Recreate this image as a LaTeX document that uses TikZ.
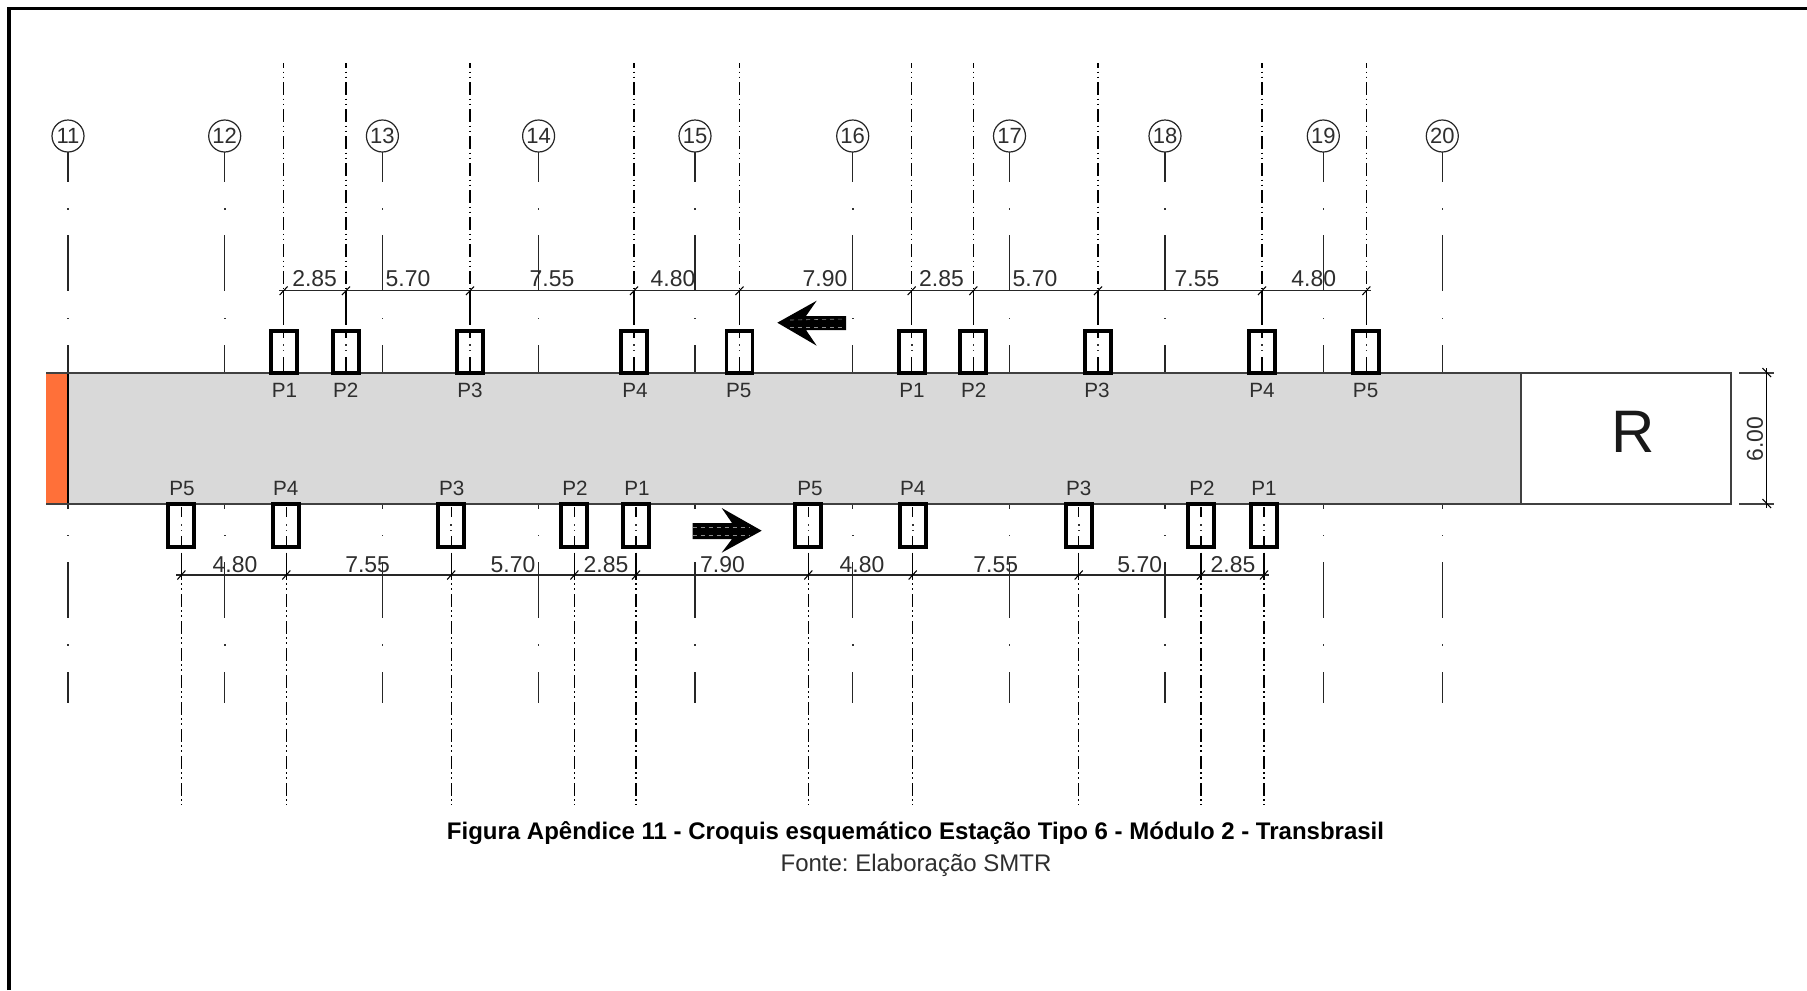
\documentclass[tikz,border=0pt]{standalone}
\usepackage{fontspec}
\setmainfont{Liberation Sans}
\definecolor{roadgrey}{HTML}{D9D9D9}
\definecolor{headorange}{HTML}{FF7039}
\definecolor{inkgrey}{HTML}{2E2E2E}
\tikzset{
  frameline/.style={line width=2.4pt,black},
  axisline/.style={line width=1.05pt,black!85},
  axisdot/.style={fill=black!80,draw=none},
  centerline/.style={line width=1.05pt,black,dash pattern=on 9.75pt off 2.5pt on 1.1pt off 2.7pt on 1.1pt off 3.1pt,dash phase=6pt},
  plainline/.style={line width=1.05pt,black},
  stopbox/.style={line width=2.9pt,black,fill=none},
  dimline/.style={line width=1.05pt,black!85},
  tickmark/.style={line width=.8pt,black},
  outline/.style={line width=1.3pt,black!75},
  plabel/.style={font=\fontsize{15.5}{15.5}\selectfont,text=inkgrey,inner sep=0pt},
  dimlabel/.style={font=\fontsize{17.2}{17.2}\selectfont,text=inkgrey,inner sep=0pt},
  axisbubble/.style={circle,draw=black!85,line width=.9pt,fill=white,minimum size=24pt,inner sep=0pt,font=\fontsize{16.5}{16.5}\selectfont,text=inkgrey},
  bigarrow/.style={fill=black,draw=none},
  arrowstreak/.style={line width=.45pt,black!45,dash pattern=on 3pt off 3pt}
}
\begin{document}
\begin{tikzpicture}[x=0.75pt,y=-0.75pt]
\useasboundingbox (0,0) rectangle (1807,990);
\fill[white] (0,0) rectangle (1807,990);
% frame
\draw[frameline] (9,990) -- (9,8.7) -- (1807,8.7);
% road
\fill[headorange] (46,372.7) rectangle (68,503.7);
\fill[roadgrey] (68,372.7) rectangle (1521.3,503.7);
% grid axes
\foreach \n/\ax in {11/68,12/224.7,13/382.4,14/538.6,15/695,16/852.7,17/1009.5,18/1165,19/1323.3,20/1442.3}{
  \draw[axisline] (\ax,152) -- (\ax,182);
  \fill[axisdot] (\ax-.8,208) rectangle (\ax+.8,209.6);
  \draw[axisline] (\ax,235) -- (\ax,291);
  \fill[axisdot] (\ax-.8,317.5) rectangle (\ax+.8,319);
  \draw[axisline] (\ax,345) -- (\ax,372.7);
  \draw[axisline] (\ax,503.7) -- (\ax,508.5);
  \fill[axisdot] (\ax-.8,534.5) rectangle (\ax+.8,536);
  \draw[axisline] (\ax,562) -- (\ax,618);
  \fill[axisdot] (\ax-.8,644) rectangle (\ax+.8,645.6);
  \draw[axisline] (\ax,672) -- (\ax,703);
  \node[axisbubble] (ax\n) at (\ax,136) {\n};
}
\draw[plainline] (68,372.7) -- (68,503.7);
% road outlines
\draw[outline] (46,372.7) -- (1730.7,372.7) -- (1730.7,503.7) -- (46,503.7);
\draw[outline] (1521.3,372.7) -- (1521.3,503.7);
% top stop lines
\foreach \i/\px/\lx/\nm in {a/283.6/284.6/P1,b/346/345.7/P2,c/470/470/P3,d/634/635/P4,e/739.5/738.7/P5,f/911.7/912/P1,g/973.3/973.8/P2,h/1098/1097/P3,i/1262/1262/P4,j/1366.3/1365.6/P5}{
  \draw[centerline] (\px,63.3) -- (\px,291);
  \draw[plainline] (\px,291) -- (\px,325);
  \draw[plainline] (\px,333) -- (\px,338);
  \fill[axisdot] (\px-.8,344) rectangle (\px+.8,345.8);
  \fill[axisdot] (\px-.8,349.5) rectangle (\px+.8,351.3);
  \draw[plainline] (\px,357) -- (\px,373);
  \draw[stopbox] (\px-13,331) rectangle (\px+13,373);
  \node[plabel] (tp\i) at (\lx,390.5) {\nm};
}
% bottom stop lines
\foreach \i/\px/\lx/\nm in {a/181.4/182/P5,b/286.3/285.8/P4,c/451.2/451.7/P3,d/574.4/575/P2,e/636/637/P1,f/808.3/810/P5,g/912.7/912.7/P4,h/1078.7/1078.7/P3,i/1201/1202/P2,j/1264/1264/P1}{
  \draw[plainline] (\px,507) -- (\px,517);
  \fill[axisdot] (\px-.8,524) rectangle (\px+.8,525.8);
  \fill[axisdot] (\px-.8,529.5) rectangle (\px+.8,531.3);
  \draw[plainline] (\px,536) -- (\px,546);
  \draw[stopbox] (\px-13,504) rectangle (\px+13,547);
  \draw[plainline] (\px,552.7) -- (\px,575);
  \draw[centerline] (\px,575) -- (\px,805);
  \node[plabel] (bp\i) at (\lx,488.5) {\nm};
}
% dimension lines
\draw[dimline] (279,290.7) -- (1371,290.7);
\draw[dimline] (176,575) -- (1269,575);
\foreach \px in {283.6,346,470,634,739.5,911.7,973.3,1098,1262,1366.3}{
  \draw[tickmark] (\px-4,295) -- (\px+4,286.5);
}
\foreach \px in {181.4,286.3,451.2,574.4,636,808.3,912.7,1078.7,1201,1264}{
  \draw[tickmark] (\px-4,579.5) -- (\px+4,570.5);
}
% dimension labels
\foreach \i/\lx/\t in {a/314.6/2.85,b/408/5.70,c/552/7.55,d/673/4.80,e/825/7.90,f/941.5/2.85,g/1035/5.70,h/1197/7.55,i/1313.7/4.80}{
  \node[dimlabel] (td\i) at (\lx,279) {\t};
}
\foreach \i/\lx/\t in {a/235/4.80,b/367.6/7.55,c/513/5.70,d/606/2.85,e/722.5/7.90,f/862/4.80,g/995.7/7.55,h/1139.7/5.70,i/1233/2.85}{
  \node[dimlabel] (bd\i) at (\lx,564.5) {\t};
}
% arrows
\fill[bigarrow] (777.3,322.7) -- (816.7,300.7) -- (806,316) -- (846,316) -- (846,330) -- (806,330) -- (816.7,345.7) -- cycle;
\draw[arrowstreak] (790,320) -- (846,319);
\draw[arrowstreak] (790,327) -- (846,327);
\fill[bigarrow] (761.7,530.7) -- (721.7,508) -- (732,523) -- (692.6,523) -- (692.6,539) -- (732,539) -- (721.7,552.7) -- cycle;
\draw[arrowstreak] (692.6,527) -- (750,527);
\draw[arrowstreak] (692.6,535) -- (750,535);
% R block and its dimension
\node[font=\fontsize{45}{45}\selectfont,text=black!90,inner sep=0pt] (rlabel) at (1633,432) {R};
\draw[outline] (1739,372.7) -- (1774,372.7);
\draw[outline] (1739,503.7) -- (1774,503.7);
\draw[plainline] (1766.7,368) -- (1766.7,508);
\draw[tickmark] (1762.5,368) -- (1771,377);
\draw[tickmark] (1762.5,499) -- (1771,508);
\node[dimlabel,rotate=90] (rdim) at (1755,439) {6.00};
% caption
\node[font=\bfseries\fontsize{18}{18}\selectfont,inner sep=0pt] (cap) at (915.5,833) {\frenchspacing Figura Apêndice 11 - Croquis esquemático Estação Tipo 6 - Módulo 2 - Transbrasil};
\node[font=\fontsize{18}{18}\selectfont,text=inkgrey,inner sep=0pt] (src) at (916,865.5) {\frenchspacing Fonte: Elaboração SMTR};
\end{tikzpicture}
\end{document}
